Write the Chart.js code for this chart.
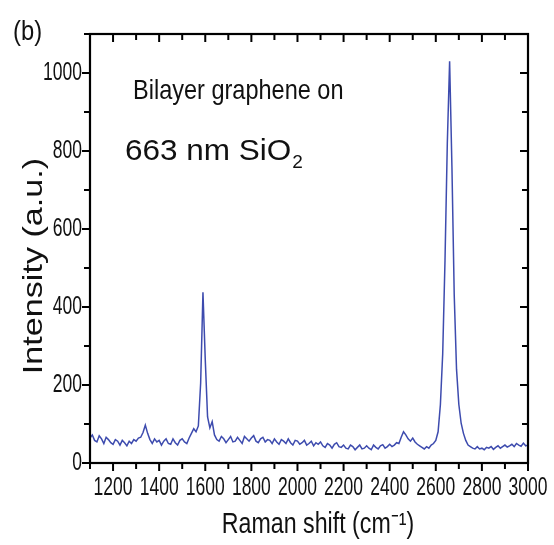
<!DOCTYPE html>
<html>
<head>
<meta charset="utf-8">
<script src="https://cdn.jsdelivr.net/npm/chart.js@4.4.0/dist/chart.umd.min.js"></script>
<style>
  html, body { margin: 0; padding: 0; background: #fff; }
</style>
</head>
<body>
<canvas id="ramanChart" width="554" height="545"></canvas>
<script>
// Raman shift (cm-1), every 10 cm-1
const shiftValues = [
  1100, 1110, 1120, 1130, 1140, 1150, 1160, 1170, 1180, 1190,
  1200, 1210, 1220, 1230, 1240, 1250, 1260, 1270, 1280, 1290,
  1300, 1310, 1320, 1330, 1340, 1350, 1360, 1370, 1380, 1390,
  1400, 1410, 1420, 1430, 1440, 1450, 1460, 1470, 1480, 1490,
  1500, 1510, 1520, 1530, 1540, 1550, 1560, 1570, 1580, 1590,
  1600, 1610, 1620, 1630, 1640, 1650, 1660, 1670, 1680, 1690,
  1700, 1710, 1720, 1730, 1740, 1750, 1760, 1770, 1780, 1790,
  1800, 1810, 1820, 1830, 1840, 1850, 1860, 1870, 1880, 1890,
  1900, 1910, 1920, 1930, 1940, 1950, 1960, 1970, 1980, 1990,
  2000, 2010, 2020, 2030, 2040, 2050, 2060, 2070, 2080, 2090,
  2100, 2110, 2120, 2130, 2140, 2150, 2160, 2170, 2180, 2190,
  2200, 2210, 2220, 2230, 2240, 2250, 2260, 2270, 2280, 2290,
  2300, 2310, 2320, 2330, 2340, 2350, 2360, 2370, 2380, 2390,
  2400, 2410, 2420, 2430, 2440, 2450, 2460, 2470, 2480, 2490,
  2500, 2510, 2520, 2530, 2540, 2550, 2560, 2570, 2580, 2590,
  2600, 2610, 2620, 2630, 2640, 2650, 2660, 2670, 2680, 2690,
  2700, 2710, 2720, 2730, 2740, 2750, 2760, 2770, 2780, 2790,
  2800, 2810, 2820, 2830, 2840, 2850, 2860, 2870, 2880, 2890,
  2900, 2910, 2920, 2930, 2940, 2950, 2960, 2970, 2980, 2990,
  3000
];

// Intensity (a.u.)
const intensityValues = [
  64, 72, 58, 54, 70, 62, 50, 66, 60, 52,
  48, 60, 56, 46, 58, 52, 44, 56, 50, 60,
  56, 64, 66, 78, 97, 76, 60, 50, 62, 54,
  58, 46, 56, 62, 50, 48, 62, 52, 46, 58,
  62, 54, 50, 64, 76, 88, 80, 95, 205, 438,
  265, 118, 90, 106, 72, 60, 56, 68, 62, 52,
  60, 68, 54, 56, 66, 58, 50, 68, 62, 56,
  64, 70, 56, 52, 62, 66, 54, 60, 58, 50,
  62, 54, 48, 60, 56, 50, 62, 52, 46, 58,
  56, 48, 52, 58, 46, 50, 56, 44, 52, 48,
  54, 44, 40, 50, 46, 38, 48, 52, 42, 40,
  46, 38, 36, 46, 42, 34, 40, 46, 36, 38,
  44, 38, 34, 46, 40, 36, 44, 47, 38, 42,
  48, 42, 46, 52, 50, 66, 80, 72, 62, 56,
  64, 54, 48, 44, 40, 36, 42, 38, 46, 50,
  58, 80, 150, 280, 520, 820, 1030, 760, 430, 240,
  150, 102, 76, 58, 46, 42, 38, 36, 42, 36,
  38, 34, 40, 38, 42, 35, 40, 44, 38, 42,
  46, 41, 44, 48, 42, 50, 46, 43, 51, 44,
  46
];

const xTickLabels = [1200, 1400, 1600, 1800, 2000, 2200, 2400, 2600, 2800, 3000];
const yTickLabels = [0, 200, 400, 600, 800, 1000];

const fontFamily = "'Liberation Sans', Arial, sans-serif";

// the figure's lettering is squeezed sideways, so draw it with a horizontal scale
function squeezedText(ctx, text, x, y, size, sx, align, baseline, angle) {
    ctx.save();
    ctx.translate(x, y);
    if (angle) ctx.rotate(angle);
    ctx.scale(sx, 1);
    ctx.font = size + 'px ' + fontFamily;
    ctx.textAlign = align;
    ctx.textBaseline = baseline;
    ctx.fillText(text, 0, 0);
    ctx.restore();
}

const frameAndText = {
    id: 'frameAndText',
    afterDraw(chart) {
        const ctx = chart.ctx;
        const a = chart.chartArea;
        const xs = chart.scales.x;
        const ys = chart.scales.y;
        ctx.save();
        ctx.strokeStyle = '#000';
        ctx.lineWidth = 2.2;
        ctx.strokeRect(a.left, a.top, a.right - a.left, a.bottom - a.top);

        ctx.lineWidth = 2;
        ctx.beginPath();
        for (let v = 1100; v <= 3000; v += 100) {
            const px = xs.getPixelForValue(v);
            const len = (v % 200 === 0) ? 8 : 6;
            ctx.moveTo(px, a.bottom); ctx.lineTo(px, a.bottom + len);   // bottom, outward
            ctx.moveTo(px, a.top); ctx.lineTo(px, a.top + len);         // top, inward
        }
        for (let v = 0; v <= 1100; v += 100) {
            const py = ys.getPixelForValue(v);
            const len = (v % 200 === 0) ? 8 : 6;
            ctx.moveTo(a.left, py); ctx.lineTo(a.left - len, py);       // left, outward
            ctx.moveTo(a.right, py); ctx.lineTo(a.right - len, py);     // right, inward
        }
        ctx.stroke();

        ctx.fillStyle = '#111';
        xs.ticks.forEach(t => {
            squeezedText(ctx, String(t.value), xs.getPixelForValue(t.value), 488, 25, 0.7, 'center', 'middle');
        });
        ys.ticks.forEach(t => {
            squeezedText(ctx, String(t.value), a.left - 8, ys.getPixelForValue(t.value), 25, 0.7, 'right', 'middle');
        });

        squeezedText(ctx, 'Raman shift (cm\u207B\u00B9)', 318, 533, 29, 0.8, 'center', 'alphabetic');
        squeezedText(ctx, 'Intensity (a.u.)', 42, 266, 28, 1.22, 'center', 'alphabetic', -Math.PI / 2);

        squeezedText(ctx, '(b)', 13, 40, 28, 0.85, 'left', 'alphabetic');
        squeezedText(ctx, 'Bilayer graphene on', 133, 99, 28, 0.84, 'left', 'alphabetic');
        squeezedText(ctx, '663 nm SiO', 125, 160, 30, 1.05, 'left', 'alphabetic');
        ctx.font = '30px ' + fontFamily;
        const w = ctx.measureText('663 nm SiO').width * 1.05;
        squeezedText(ctx, '2', 125 + w + 1, 168, 19, 1.0, 'left', 'alphabetic');
        ctx.restore();
    }
};

new Chart('ramanChart', {
    type: 'line',
    data: {
        datasets: [{
            data: shiftValues.map((s, i) => ({ x: s, y: intensityValues[i] })),
            borderColor: 'rgba(40, 55, 165, 0.9)',
            borderWidth: 1.5,
            pointRadius: 0,
            tension: 0,
            fill: false
        }]
    },
    options: {
        responsive: false,
        animation: false,
        layout: { padding: { top: 34, right: 26, left: 0, bottom: 0 } },
        plugins: {
            legend: { display: false },
            tooltip: { enabled: false }
        },
        scales: {
            x: {
                type: 'linear',
                min: 1100,
                max: 3000,
                grid: { display: false },
                border: { display: false },
                ticks: { display: false },
                afterBuildTicks: scale => { scale.ticks = xTickLabels.map(v => ({ value: v })); },
                afterFit: scale => { scale.height = 82; }
            },
            y: {
                min: 0,
                max: 1100,
                grid: { display: false },
                border: { display: false },
                ticks: { display: false },
                afterBuildTicks: scale => { scale.ticks = yTickLabels.map(v => ({ value: v })); },
                afterFit: scale => { scale.width = 90; }
            }
        }
    },
    plugins: [frameAndText]
});
</script>
</body>
</html>
